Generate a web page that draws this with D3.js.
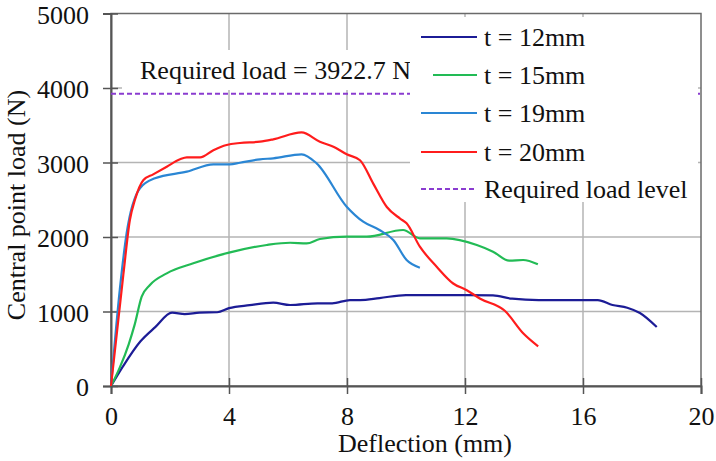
<!DOCTYPE html>
<html>
<head>
<meta charset="utf-8">
<script src="https://cdn.jsdelivr.net/npm/d3@7"></script>
<style>
  body { margin: 0; background: #fff; }
  svg { display: block; }
</style>
</head>
<body>
<svg id="chart"></svg>
<script>
// values (deflection in mm, load in N)
var t12 = [[0,0],[0.4,260],[1,600],[1.5,790],[2.07,984],[2.5,966],[3.0,985],[3.6,990],[4.0,1045],[4.7,1085],[5.5,1118],[6.07,1087],[7.0,1110],[7.5,1110],[8.1,1154],[8.44,1154],[9.1,1180],[10.0,1221],[12.07,1221],[12.95,1217],[13.6,1172],[14.5,1154],[16.5,1154],[17.0,1087],[17.5,1051],[17.93,980],[18.5,792]];
var t15 = [[0,0],[0.3,250],[0.6,560],[0.8,820],[1.04,1199],[1.32,1356],[1.89,1512],[2.79,1647],[4.0,1790],[5.28,1893],[6.07,1923],[6.63,1914],[7.08,1973],[7.99,2004],[8.67,2004],[9.9,2094],[10.47,1982],[11.38,1982],[12.4,1893],[12.95,1803],[13.5,1682],[13.97,1691],[14.47,1633]];
var t19 = [[0,0],[0.3,1300],[0.53,2050],[0.98,2653],[1.49,2788],[2.57,2877],[3.47,2976],[4.03,2976],[4.37,2997],[5.05,3043],[5.5,3056],[6.46,3110],[6.97,2989],[7.99,2407],[8.55,2205],[9.1,2094],[9.57,1960],[10.02,1691],[10.47,1588]];
var t20 = [[0,0],[0.42,1500],[0.64,2228],[0.81,2497],[1.1,2765],[1.43,2841],[1.89,2944],[2.34,3043],[2.57,3069],[3.02,3069],[3.47,3166],[3.92,3235],[4.37,3262],[5.05,3279],[5.5,3311],[6.46,3404],[7.08,3279],[7.54,3212],[7.99,3110],[8.44,3030],[8.89,2717],[9.35,2403],[9.8,2247],[10.02,2183],[10.47,1870],[11.04,1601],[11.6,1376],[12.06,1286],[12.5,1175],[13.35,1010],[13.98,705],[14.48,533]];
var requiredLoad = 3922.7;

var xTicks = [0, 4, 8, 12, 16, 20];
var yTicks = [0, 1000, 2000, 3000, 4000, 5000];

var seriesNames = ["t = 12mm", "t = 15mm", "t = 19mm", "t = 20mm"];
var seriesColors = ["#1c1c96", "#22bb55", "#2a86d4", "#ff1c1c"];
var series = [t12, t15, t19, t20];

var width = 716, height = 461;
var fontSize = 26;
var serif = "Liberation Serif";

var svg = d3.select("#chart")
    .attr("width", width)
    .attr("height", height)
    .attr("font-family", serif);

svg.append("rect").attr("width", width).attr("height", height).attr("fill", "#fff");

var x = d3.scaleLinear().domain([0, 20]).range([111, 701]);
var y = d3.scaleLinear().domain([0, 5000]).range([386, 13.5]);

// grid
svg.append("g")
    .selectAll("line")
    .data(xTicks.slice(1, -1))
    .join("line")
    .attr("x1", d => x(d)).attr("x2", d => x(d))
    .attr("y1", y(5000)).attr("y2", y(0))
    .attr("stroke", "#b4b4b4")
    .attr("stroke-width", 1.5);

svg.append("g")
    .selectAll("line")
    .data(yTicks.slice(1, -1))
    .join("line")
    .attr("x1", x(0)).attr("x2", x(20))
    .attr("y1", d => y(d)).attr("y2", d => y(d))
    .attr("stroke", "#b4b4b4")
    .attr("stroke-width", 1.5);

// frame
svg.append("rect")
    .attr("x", x(0)).attr("y", y(5000))
    .attr("width", x(20) - x(0)).attr("height", y(0) - y(5000))
    .attr("fill", "none")
    .attr("stroke", "#6a6a6a")
    .attr("stroke-width", 1.5);

// axes (ticks crossing the axis line)
var xAxis = svg.append("g")
    .attr("transform", "translate(0," + y(0) + ")")
    .call(d3.axisBottom(x).tickValues(xTicks).tickSize(8).tickFormat(d3.format("d")));
xAxis.attr("font-family", serif);
xAxis.selectAll(".tick line").attr("y1", -8).attr("stroke", "#555").attr("stroke-width", 1.5);
xAxis.select(".domain").attr("stroke", "#555").attr("stroke-width", 2);
xAxis.selectAll(".tick text")
    .attr("y", 39).attr("dy", 0)
    .attr("font-size", fontSize)
    .attr("fill", "#111");

var yAxis = svg.append("g")
    .attr("transform", "translate(" + x(0) + ",0)")
    .call(d3.axisLeft(y).tickValues(yTicks).tickSize(8).tickFormat(d3.format("d")));
yAxis.attr("font-family", serif);
yAxis.selectAll(".tick line").attr("x1", 7).attr("stroke", "#555").attr("stroke-width", 1.5);
yAxis.select(".domain").attr("stroke", "#555").attr("stroke-width", 2);
yAxis.selectAll(".tick text")
    .attr("x", -22).attr("dy", "0.38em")
    .attr("font-size", fontSize)
    .attr("fill", "#111");

// annotation for the required load
svg.append("rect")
    .attr("x", 122).attr("y", 50).attr("width", 288).attr("height", 40)
    .attr("fill", "#fff");
svg.append("text")
    .attr("x", 140).attr("y", 79)
    .attr("font-size", fontSize)
    .attr("fill", "#111")
    .text("Required load = " + requiredLoad + " N");

svg.append("line")
    .attr("x1", x(0)).attr("x2", x(20))
    .attr("y1", y(requiredLoad)).attr("y2", y(requiredLoad))
    .attr("stroke", "#8a3cd0")
    .attr("stroke-width", 2)
    .attr("stroke-dasharray", "5,3");

// legend box covers the grid behind it
svg.append("rect")
    .attr("x", 410).attr("y", 17).attr("width", 288).attr("height", 185)
    .attr("fill", "#fff");

var line = d3.line()
    .x(d => x(d[0]))
    .y(d => y(d[1]))
    .curve(d3.curveMonotoneX);

svg.append("g")
    .selectAll("path")
    .data(series)
    .join("path")
    .attr("d", line)
    .attr("fill", "none")
    .attr("stroke", (d, i) => seriesColors[i])
    .attr("stroke-width", 2.2)
    .attr("stroke-linejoin", "round");

// legend
var legendY = [37, 75, 113, 152, 189];
var legend = svg.append("g");
seriesNames.forEach(function (name, i) {
    legend.append("line")
        .attr("x1", i == 1 ? 433 : 421).attr("x2", 477)
        .attr("y1", legendY[i]).attr("y2", legendY[i])
        .attr("stroke", seriesColors[i])
        .attr("stroke-width", 2.2);
    legend.append("text")
        .attr("x", 484).attr("y", legendY[i]).attr("dy", "0.35em")
        .attr("font-size", fontSize)
        .attr("fill", "#111")
        .text(name);
});
legend.append("line")
    .attr("x1", 421).attr("x2", 477)
    .attr("y1", legendY[4]).attr("y2", legendY[4])
    .attr("stroke", "#8a3cd0")
    .attr("stroke-width", 2)
    .attr("stroke-dasharray", "5,3");
legend.append("text")
    .attr("x", 484).attr("y", legendY[4]).attr("dy", "0.35em")
    .attr("font-size", fontSize)
    .attr("fill", "#111")
    .text("Required load level");

// axis titles
svg.append("text")
    .attr("x", 425).attr("y", 452)
    .attr("text-anchor", "middle")
    .attr("font-size", fontSize)
    .attr("fill", "#111")
    .text("Deflection (mm)");

svg.append("text")
    .attr("transform", "rotate(-90)")
    .attr("x", -205).attr("y", 25)
    .attr("text-anchor", "middle")
    .attr("font-size", fontSize)
    .attr("fill", "#111")
    .text("Central point load (N)");

svg.selectAll("text").attr("font-family", serif);
</script>
</body>
</html>
